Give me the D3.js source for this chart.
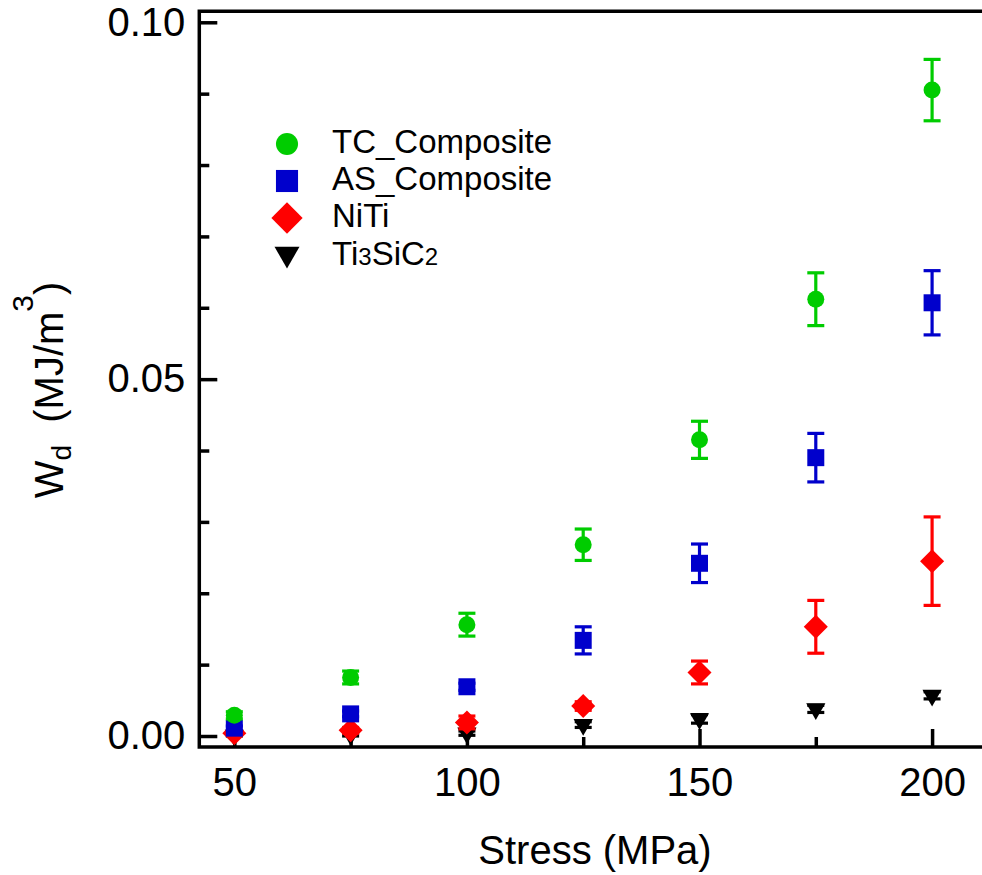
<!DOCTYPE html>
<html>
<head>
<meta charset="utf-8">
<script src="https://cdn.jsdelivr.net/npm/d3@7"></script>
<style>
  body { margin: 0; background: #fff; }
  svg { display: block; font-family: "Liberation Sans", Arial, sans-serif; }
</style>
</head>
<body>
<div id="chart"></div>
<script>
// data
let stress = [50, 75, 100, 125, 150, 175, 200];
let tcVal  = [0.0029, 0.0082, 0.0156, 0.0268, 0.0415, 0.0612, 0.0905];
let tcErr  = [0.0005, 0.0009, 0.0016, 0.0022, 0.0026, 0.0037, 0.0043];
let asVal  = [0.0011, 0.0031, 0.0069, 0.0134, 0.0242, 0.0390, 0.0607];
let asErr  = [0.0003, 0.0004, 0.0005, 0.0019, 0.0027, 0.0034, 0.0045];
let nitiVal = [0.0004, 0.0008, 0.0019, 0.0042, 0.0089, 0.0153, 0.0245];
let nitiErr = [0.0003, 0.0004, 0.0009, 0.0006, 0.0016, 0.0037, 0.0062];
let tiVal  = [0.0001, 0.0002, 0.0004, 0.0016, 0.0024, 0.0038, 0.0057];
let tiErr  = [0.0001, 0.0002, 0.0003, 0.0004, 0.0006, 0.0005, 0.0005];

let xMajor = [50, 100, 150, 200];
let xMinor = [75, 125, 175];
let yMajor = [0, 0.05, 0.10];
let yMinor = [0.01, 0.02, 0.03, 0.04, 0.06, 0.07, 0.08, 0.09];

const width = 982, height = 875;
const pLeft = 199.3, pRight = 1000, pTop = 11.3, pBottom = 747;

let x = d3.scaleLinear().domain([42.47, 214.6]).range([pLeft, pRight]);
let y = d3.scaleLinear().domain([-0.00154, 0.10154]).range([pBottom, pTop]);

let svg = d3.select("#chart").append("svg")
    .attr("width", width).attr("height", height);

// series, drawn bottom-most first
let series = [
    {name: "Ti3SiC2", vals: tiVal, errs: tiErr, color: "#000000", shape: "tri"},
    {name: "NiTi", vals: nitiVal, errs: nitiErr, color: "#ff0000", shape: "dia"},
    {name: "AS_Composite", vals: asVal, errs: asErr, color: "#0000cc", shape: "sq"},
    {name: "TC_Composite", vals: tcVal, errs: tcErr, color: "#00cc00", shape: "circ"}
];

function symbolPath(shape, scale) {
    if (shape == "circ") return d3.symbol(d3.symbolCircle, 227 * scale * scale)();
    if (shape == "sq") return d3.symbol(d3.symbolSquare, 289 * scale * scale)();
    if (shape == "dia") return d3.symbol(d3.symbolSquare, 289 * scale * scale)();
    return d3.symbol(d3.symbolTriangle, 160 * scale * scale)();
}
function symbolRot(shape) {
    if (shape == "dia") return " rotate(45)";
    if (shape == "tri") return " rotate(180)";
    return "";
}

// axes (ticks inward)
let gx = svg.append("g").attr("transform", `translate(0,${pBottom})`)
    .call(d3.axisBottom(x).tickValues(xMajor).tickSize(-18).tickSizeOuter(0).tickPadding(21));
let gxm = svg.append("g").attr("transform", `translate(0,${pBottom})`)
    .call(d3.axisBottom(x).tickValues(xMinor).tickSize(-10).tickSizeOuter(0).tickFormat(""));
let gy = svg.append("g").attr("transform", `translate(${pLeft},0)`)
    .call(d3.axisLeft(y).tickValues(yMajor).tickSize(-18).tickSizeOuter(0).tickPadding(14)
        .tickFormat(d3.format(".2f")));
let gym = svg.append("g").attr("transform", `translate(${pLeft},0)`)
    .call(d3.axisLeft(y).tickValues(yMinor).tickSize(-10).tickSizeOuter(0).tickFormat(""));

[gx, gxm, gy, gym].forEach(g => {
    g.select(".domain").remove();
    g.selectAll(".tick line").attr("stroke", "#000").attr("stroke-width", 3.5);
    g.selectAll(".tick text").attr("fill", "#000")
        .style("font-size", "40px").style("font-family", "'Liberation Sans', Arial, sans-serif");
});

// frame (right side runs past the picture edge)
svg.append("path")
    .attr("d", `M${pRight},${pTop}H${pLeft}V${pBottom}H${pRight}`)
    .attr("fill", "none").attr("stroke", "#000").attr("stroke-width", 3.5);

// error bars and markers
for (let s of series) {
    let g = svg.append("g");
    let pts = stress.map((v, i) => ({x: v, y: s.vals[i], e: s.errs[i]}));
    let eb = g.selectAll(".eb").data(pts).join("g")
        .attr("stroke", s.color).attr("stroke-width", 3.2);
    eb.append("line")
        .attr("x1", d => x(d.x)).attr("x2", d => x(d.x))
        .attr("y1", d => y(d.y - d.e)).attr("y2", d => y(d.y + d.e));
    eb.append("line")
        .attr("x1", d => x(d.x) - 8.5).attr("x2", d => x(d.x) + 8.5)
        .attr("y1", d => y(d.y + d.e)).attr("y2", d => y(d.y + d.e));
    eb.append("line")
        .attr("x1", d => x(d.x) - 8.5).attr("x2", d => x(d.x) + 8.5)
        .attr("y1", d => y(d.y - d.e)).attr("y2", d => y(d.y - d.e));
    g.selectAll(".mk").data(pts).join("path")
        .attr("d", symbolPath(s.shape, 1))
        .attr("transform", d => `translate(${x(d.x)},${y(d.y)})` + symbolRot(s.shape))
        .attr("fill", s.color);
}

// legend
let legendRows = [
    {shape: "circ", color: "#00cc00", y: 144},
    {shape: "sq", color: "#0000cc", y: 181},
    {shape: "dia", color: "#ff0000", y: 218},
    {shape: "tri", color: "#000000", y: 254}
];
let lg = svg.append("g");
legendRows.forEach((r, i) => {
    lg.append("path")
        .attr("d", symbolPath(r.shape, 1.3))
        .attr("transform", `translate(287,${r.y})` + symbolRot(r.shape))
        .attr("fill", r.color);
    let t = lg.append("text")
        .attr("x", 332).attr("y", r.y + 9 + (i == 3 ? 2 : 0))
        .style("font-size", "33px").attr("fill", "#000");
    if (i == 0) t.text("TC_Composite");
    if (i == 1) t.text("AS_Composite");
    if (i == 2) t.text("NiTi");
    if (i == 3) {
        t.append("tspan").text("Ti");
        t.append("tspan").style("font-size", "24px").text("3");
        t.append("tspan").text("SiC");
        t.append("tspan").style("font-size", "24px").text("2");
    }
});

// axis titles
svg.append("text")
    .attr("x", 595).attr("y", 864)
    .attr("text-anchor", "middle")
    .style("font-size", "40px")
    .text("Stress (MPa)");

let yl = svg.append("text")
    .attr("transform", "translate(63,390) rotate(-90)")
    .attr("text-anchor", "middle")
    .style("font-size", "40px");
yl.append("tspan").text("W");
yl.append("tspan").style("font-size", "28px").attr("dy", 8).text("d");
yl.append("tspan").attr("dy", -8).text("\u00a0 (MJ/m");
yl.append("tspan").style("font-size", "30px").attr("dy", -30).text("3");
yl.append("tspan").attr("dy", 30).text(")");
</script>
</body>
</html>
